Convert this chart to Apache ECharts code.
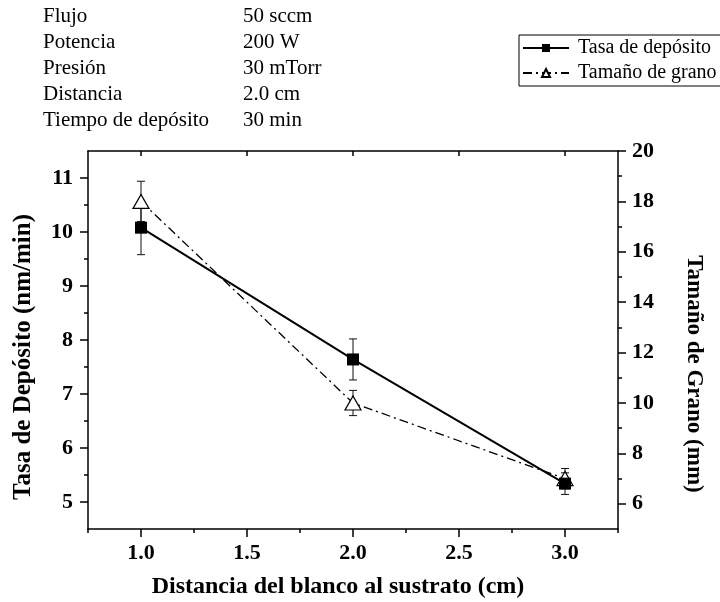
<!DOCTYPE html>
<html>
<head>
<meta charset="utf-8">
<script src="https://cdn.jsdelivr.net/npm/echarts@6/dist/echarts.min.js"></script>
<style>
  html, body { margin: 0; padding: 0; background: #fff; }
  #chart { width: 720px; height: 602px; }
</style>
</head>
<body>
<div id="chart"></div>
<script>
// Deposition conditions
const condNames = ['Flujo', 'Potencia', 'Presión', 'Distancia', 'Tiempo de depósito'];
const condValues = ['50 sccm', '200 W', '30 mTorr', '2.0 cm', '30 min'];

// Target–substrate distance (cm)
const distancia = [1.0, 2.0, 3.0];
// Deposition rate (nm/min) and its error
const tasa = [10.08, 7.64, 5.34];
const tasaErr = [0.5, 0.38, 0.2];
// Grain size and its error
const grano = [18.0, 10.0, 7.0];
const granoErr = [0.8, 0.5, 0.4];

// Axis ticks
const xMajor = [1.0, 1.5, 2.0, 2.5, 3.0];
const xMinor = [0.75, 1.25, 1.75, 2.25, 2.75, 3.25];
const yLeftMajor = [5, 6, 7, 8, 9, 10, 11];
const yLeftMinor = [5.5, 6.5, 7.5, 8.5, 9.5, 10.5];
const yRightMajor = [6, 8, 10, 12, 14, 16, 18, 20];
const yRightMinor = [7, 9, 11, 13, 15, 17, 19];

// Axis titles
const xTitle = 'Distancia del blanco al sustrato (cm)';
const yLeftTitle = 'Tasa de Depósito (nm/min)';
const yRightTitle = 'Tamaño de Grano (mm)';

const FONT = '"Liberation Serif", "Times New Roman", serif';
const INK = '#000';

const chart = echarts.init(document.getElementById('chart'), null, { renderer: 'canvas' });

function errorBars(params, api) {
  const x = api.value(0), y = api.value(1), e = api.value(2);
  const top = api.coord([x, y + e]);
  const bot = api.coord([x, y - e]);
  const cap = 4;
  const style = { stroke: '#111', lineWidth: 1 };
  return {
    type: 'group',
    children: [
      { type: 'line', shape: { x1: top[0], y1: top[1], x2: bot[0], y2: bot[1] }, style },
      { type: 'line', shape: { x1: top[0] - cap, y1: top[1], x2: top[0] + cap, y2: top[1] }, style },
      { type: 'line', shape: { x1: bot[0] - cap, y1: bot[1], x2: bot[0] + cap, y2: bot[1] }, style }
    ]
  };
}

const tickLabel = { color: INK, fontFamily: FONT, fontWeight: 'bold', fontSize: 22 };
const axisLine = { show: true, onZero: false, lineStyle: { color: INK, width: 1.5 } };

// Condition table in the upper left and the axis titles
const graphics = [];
condNames.forEach((n, i) => {
  const y = 16 + 26 * i;
  graphics.push({ type: 'text', x: 43, y: y, style: { text: n, fill: INK, font: '21px ' + FONT, verticalAlign: 'middle' } });
  graphics.push({ type: 'text', x: 243, y: y, style: { text: condValues[i], fill: INK, font: '21px ' + FONT, verticalAlign: 'middle' } });
});
graphics.push({
  type: 'text', x: 338, y: 587,
  style: { text: xTitle, fill: INK, font: 'bold 24px ' + FONT, align: 'center', verticalAlign: 'middle' }
});
graphics.push({
  type: 'text', x: 24, y: 357, rotation: Math.PI / 2,
  style: { text: yLeftTitle, fill: INK, font: 'bold 25px ' + FONT, align: 'center', verticalAlign: 'middle' }
});
graphics.push({
  type: 'text', x: 694, y: 374, rotation: -Math.PI / 2,
  style: { text: yRightTitle, fill: INK, font: 'bold 23px ' + FONT, align: 'center', verticalAlign: 'middle' }
});

const option = {
  backgroundColor: '#fff',
  animation: false,
  grid: { left: 88, right: 102, top: 151, bottom: 73, containLabel: false, outerBoundsMode: 'none' },
  graphic: graphics,
  legend: {
    data: ['Tasa de depósito', 'Tamaño de grano'],
    orient: 'vertical',
    left: 519,
    top: 35,
    padding: [3, 24, 3, 3],
    itemWidth: 46,
    itemHeight: 10,
    itemGap: 5,
    borderColor: INK,
    borderWidth: 1,
    textStyle: { color: INK, fontFamily: FONT, fontSize: 20, padding: [0, 0, 0, 4] }
  },
  xAxis: [
    {
      type: 'value', min: 0.75, max: 3.25, position: 'bottom',
      axisLine,
      axisTick: { show: true, customValues: xMajor, length: 8, lineStyle: { color: INK, width: 1.5 } },
      axisLabel: Object.assign({ customValues: xMajor, margin: 13, formatter: v => v.toFixed(1) }, tickLabel),
      splitLine: { show: false }
    },
    {
      type: 'value', min: 0.75, max: 3.25, position: 'bottom',
      axisLine: { show: false },
      axisTick: { show: true, customValues: xMinor, length: 4, lineStyle: { color: INK, width: 1.5 } },
      axisLabel: { show: false }, splitLine: { show: false }
    },
    {
      type: 'value', min: 0.75, max: 3.25, position: 'top',
      axisLine,
      axisTick: { show: true, inside: true, customValues: xMajor, length: 5, lineStyle: { color: INK, width: 1.5 } },
      axisLabel: { show: false }, splitLine: { show: false }
    }
  ],
  yAxis: [
    {
      type: 'value', min: 4.5, max: 11.5, position: 'left',
      axisLine,
      axisTick: { show: true, customValues: yLeftMajor, length: 8, lineStyle: { color: INK, width: 1.5 } },
      axisLabel: Object.assign({ customValues: yLeftMajor, margin: 15 }, tickLabel),
      splitLine: { show: false }
    },
    {
      type: 'value', min: 4.5, max: 11.5, position: 'left',
      axisLine: { show: false },
      axisTick: { show: true, customValues: yLeftMinor, length: 4, lineStyle: { color: INK, width: 1.5 } },
      axisLabel: { show: false }, splitLine: { show: false }
    },
    {
      type: 'value', min: 5, max: 20, position: 'right',
      axisLine,
      axisTick: { show: true, customValues: yRightMajor, length: 8, lineStyle: { color: INK, width: 1.5 } },
      axisLabel: Object.assign({ customValues: yRightMajor, margin: 14 }, tickLabel),
      splitLine: { show: false }
    },
    {
      type: 'value', min: 5, max: 20, position: 'right',
      axisLine: { show: false },
      axisTick: { show: true, customValues: yRightMinor, length: 4, lineStyle: { color: INK, width: 1.5 } },
      axisLabel: { show: false }, splitLine: { show: false }
    }
  ],
  series: [
    {
      type: 'custom', name: 'errTasa', xAxisIndex: 0, yAxisIndex: 0, z: 1,
      renderItem: errorBars,
      data: distancia.map((d, i) => [d, tasa[i], tasaErr[i]]),
      encode: { x: 0, y: 1 }, silent: true
    },
    {
      type: 'custom', name: 'errGrano', xAxisIndex: 0, yAxisIndex: 2, z: 1,
      renderItem: errorBars,
      data: distancia.map((d, i) => [d, grano[i], granoErr[i]]),
      encode: { x: 0, y: 1 }, silent: true
    },
    {
      type: 'line', name: 'Tamaño de grano', xAxisIndex: 0, yAxisIndex: 2, z: 3,
      data: distancia.map((d, i) => [d, grano[i]]),
      symbol: 'triangle', symbolSize: [16, 14],
      itemStyle: { color: '#fff', borderColor: INK, borderWidth: 1.2 },
      lineStyle: { color: INK, width: 1.3, type: [9, 4, 2, 4] }
    },
    {
      type: 'line', name: 'Tasa de depósito', xAxisIndex: 0, yAxisIndex: 0, z: 4,
      data: distancia.map((d, i) => [d, tasa[i]]),
      symbol: 'rect', symbolSize: 12,
      itemStyle: { color: INK },
      lineStyle: { color: INK, width: 2 }
    }
  ]
};

chart.setOption(option);
</script>
</body>
</html>
